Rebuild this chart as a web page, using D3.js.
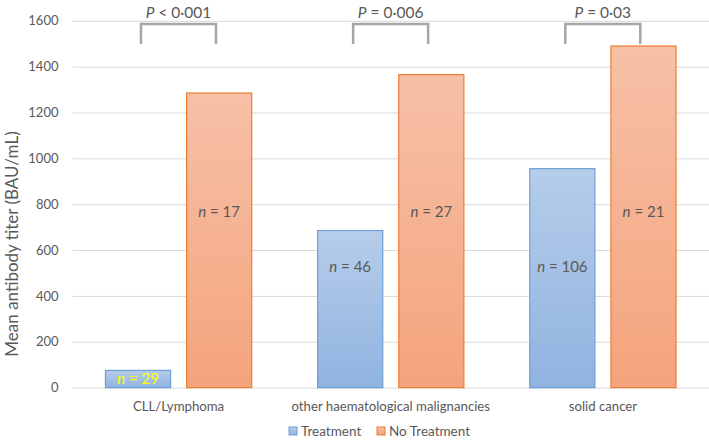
<!DOCTYPE html>
<html><head><meta charset="utf-8">
<script src="https://cdn.jsdelivr.net/npm/d3@7"></script>
<style>body{margin:0;background:#fff}svg{display:block}text{font-family:Lato,"Liberation Sans",sans-serif}</style>
</head><body><svg id="c" width="709" height="440"></svg>
<script>
const categories = ["CLL/Lymphoma", "other haematological malignancies", "solid cancer"];
const seriesNames = ["Treatment", "No Treatment"];
const treatment = [75, 685, 955];
const noTreatment = [1285, 1365, 1490];
const nTreatment = ["29", "46", "106"];
const nNoTreatment = ["17", "27", "21"];
const nLabelValTreatment = [38, 527, 527];
const nLabelValNoTreatment = [765, 765, 765];
const pLabels = ["< 0·001", "= 0·006", "= 0·03"];
const yTicks = [0, 200, 400, 600, 800, 1000, 1200, 1400, 1600];

const svg = d3.select("#c");
const x0 = d3.scaleBand().domain(categories).range([72.5, 709]).paddingInner(0.306).paddingOuter(0.153);
const x1 = d3.scaleBand().domain(seriesNames).range([0, x0.bandwidth()]).paddingInner(0.185).paddingOuter(0);
const y = d3.scaleLinear().domain([0, 1600]).range([387.6, 20.8]);

const defs = svg.append("defs");
function grad(id, top, bottom){
  const g = defs.append("linearGradient").attr("id", id).attr("x1",0).attr("y1",0).attr("x2",0).attr("y2",1);
  g.append("stop").attr("offset","0%").attr("stop-color",top);
  g.append("stop").attr("offset","100%").attr("stop-color",bottom);
}
grad("gB", "#b6cdea", "#90b3e0");
grad("gO", "#f7c0a7", "#f4a47c");

// gridlines
const yAxis = d3.axisLeft(y).tickValues(yTicks).tickSize(-(709 - 72.5)).tickPadding(14).tickFormat(d3.format("d"));
const ga = svg.append("g").attr("transform", "translate(72.5,0)").call(yAxis);
ga.select(".domain").remove();
ga.selectAll(".tick line").attr("stroke", "#d9d9d9").attr("stroke-width", 1);
ga.selectAll(".tick text").attr("fill", "#595959").style("font-size", "13px");

// axis title
svg.append("text").attr("transform", "translate(18,244) rotate(-90)")
  .attr("text-anchor", "middle").attr("fill", "#595959").style("font-size", "17px")
  .text("Mean antibody titer (BAU/mL)");

const series = [
  {name: "Treatment", vals: treatment, fill: "url(#gB)", stroke: "#6d9fd6", n: nTreatment, nv: nLabelValTreatment},
  {name: "No Treatment", vals: noTreatment, fill: "url(#gO)", stroke: "#ed7d31", n: nNoTreatment, nv: nLabelValNoTreatment}
];

series.forEach(s => {
  svg.append("g").selectAll("rect").data(categories).join("rect")
    .attr("x", (c) => x0(c) + x1(s.name) + 0.5)
    .attr("y", (c, i) => y(s.vals[i]))
    .attr("width", x1.bandwidth() - 1)
    .attr("height", (c, i) => y(0) - y(s.vals[i]))
    .attr("fill", s.fill).attr("stroke", s.stroke).attr("stroke-width", 1.2);
  const t = svg.append("g").selectAll("text").data(categories).join("text")
    .attr("x", (c) => x0(c) + x1(s.name) + x1.bandwidth() / 2)
    .attr("y", (c, i) => y(s.nv[i]))
    .attr("dy", "0.35em").attr("text-anchor", "middle")
    .attr("fill", (c, i) => (s.name === "Treatment" && i === 0) ? "#ffff00" : "#595959")
    .style("font-size", "15px");
  t.append("tspan").style("font-style", "italic").text("n");
  t.append("tspan").text((c, i) => " = " + s.n[i]);
});

// x labels
svg.append("g").selectAll("text").data(categories).join("text")
  .attr("x", c => x0(c) + x0.bandwidth() / 2).attr("y", 411)
  .attr("text-anchor", "middle").attr("fill", "#595959").style("font-size", "13.2px").text(c => c);

// brackets
const bg = svg.append("g");
categories.forEach((c, i) => {
  const xl = x0(c) + 36, xr = x0(c) + 111;
  bg.append("path").attr("d", `M${xl},${y(1499)}V${y(1586)}H${xr}V${y(1499)}`)
    .attr("fill", "none").attr("stroke", "#a6a6a6").attr("stroke-width", 2.5);
  const t = bg.append("text").attr("x", (xl + xr) / 2).attr("y", 18).attr("text-anchor", "middle")
    .attr("fill", "#595959").style("font-size", "15.5px");
  t.append("tspan").style("font-style", "italic").text("P");
  t.append("tspan").text(" " + pLabels[i]);
});

// legend
const lg = svg.append("g").attr("transform", "translate(289,431)");
const lx = [0, 88];
series.forEach((s, i) => {
  lg.append("rect").attr("x", lx[i]).attr("y", -4).attr("width", 8).attr("height", 8)
    .attr("fill", s.fill).attr("stroke", s.stroke).attr("stroke-width", 1);
  lg.append("text").attr("x", lx[i] + 12).attr("y", 0).attr("dy", "0.35em")
    .attr("fill", "#595959").style("font-size", "13.5px").text(s.name);
});
</script></body></html>
